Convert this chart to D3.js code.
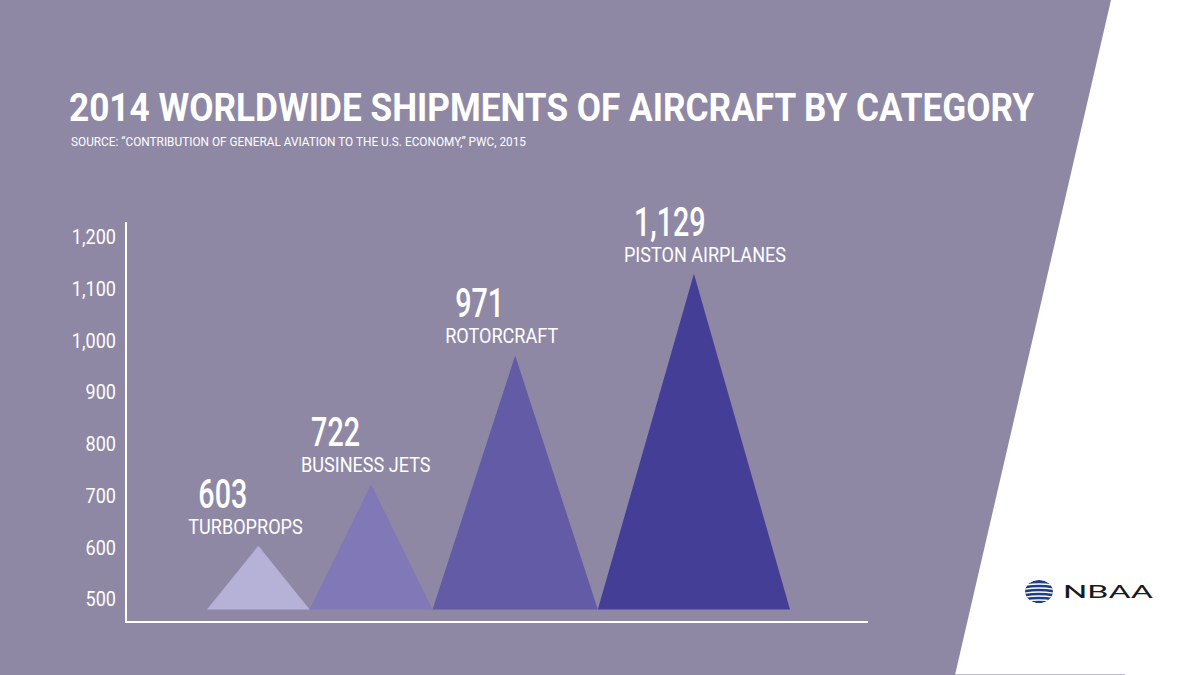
<!DOCTYPE html>
<html>
<head>
<meta charset="utf-8">
<script src="https://cdn.jsdelivr.net/npm/d3@7.9.0/dist/d3.min.js"></script>
<style>
  html, body { margin: 0; padding: 0; background: #ffffff; }
  svg { display: block; }
  text { font-family: Roboto, 'Open Sans', sans-serif; fill: #ffffff; }
</style>
</head>
<body>
<svg id="chart" width="1200" height="675"></svg>
<script>
// chart data
const categories = ['TURBOPROPS', 'BUSINESS JETS', 'ROTORCRAFT', 'PISTON AIRPLANES'];
const shipments = [603, 722, 971, 1129];
const yTicks = [500, 600, 700, 800, 900, 1000, 1100, 1200];
const colors = ['#b6b2d7', '#8078b7', '#635ba6', '#453e97'];

const title = '2014 WORLDWIDE SHIPMENTS OF AIRCRAFT BY CATEGORY';
const source = 'SOURCE: \u201CCONTRIBUTION OF GENERAL AVIATION TO THE U.S. ECONOMY,\u201D PWC, 2015';

const svg = d3.select('#chart');
const fmt = d3.format(',');

// squeeze text horizontally, fonts here are not condensed
function condense(sel, factor) {
  sel.each(function () {
    const w = this.getComputedTextLength();
    d3.select(this)
      .attr('textLength', w * factor)
      .attr('lengthAdjust', 'spacingAndGlyphs');
  });
}

// background slab
svg.append('rect')
  .attr('width', 1200).attr('height', 675)
  .attr('fill', '#ffffff');

svg.append('path')
  .attr('d', 'M0,0 L1111,0 L955,675 L0,675 Z')
  .attr('fill', '#8e88a5');

svg.append('line')
  .attr('x1', 955).attr('x2', 1125)
  .attr('y1', 674.5).attr('y2', 674.5)
  .attr('stroke', '#bdb9cf');

// title + source
svg.append('text')
  .attr('x', 69).attr('y', 121)
  .attr('font-size', 38)
  .attr('font-weight', 700)
  .attr('textLength', 965)
  .attr('lengthAdjust', 'spacingAndGlyphs')
  .text(title);

svg.append('text')
  .attr('x', 71).attr('y', 146)
  .attr('font-size', 12.5)
  .attr('textLength', 455)
  .attr('lengthAdjust', 'spacingAndGlyphs')
  .text(source);

// scales
const y = d3.scaleLinear()
  .domain([480, 1200])
  .range([609.5, 237]);

const ends = d3.cumsum(shipments);
const starts = shipments.map((v, i) => ends[i] - v);

const x = d3.scaleLinear()
  .domain([0, d3.sum(shipments)])
  .range([207, 790]);

// y axis labels
const yAxis = d3.axisLeft(y)
  .tickValues(yTicks)
  .tickSize(0)
  .tickPadding(0)
  .tickFormat(fmt);

const yG = svg.append('g')
  .attr('transform', 'translate(116,0)')
  .call(yAxis);

yG.select('.domain').remove();
yG.selectAll('text')
  .attr('font-family', 'Roboto, sans-serif')
  .attr('font-size', 21)
  .attr('fill', '#ffffff')
  .call(condense, 0.86);

// axis frame
svg.append('path')
  .attr('d', 'M126,222 V622 H868')
  .attr('fill', 'none')
  .attr('stroke', '#ffffff')
  .attr('stroke-width', 2);

// triangles
const data = categories.map((c, i) => ({
  name: c,
  value: shipments[i],
  x0: starts[i],
  x1: ends[i],
  color: colors[i]
}));

const base = y.range()[0];

svg.append('g')
  .selectAll('path')
  .data(data)
  .join('path')
  .attr('d', d => {
    const mid = (d.x0 + d.x1) / 2;
    return `M${x(d.x0)},${base} L${x(mid)},${y(d.value)} L${x(d.x1)},${base} Z`;
  })
  .attr('fill', d => d.color);

// labels above each peak
const labels = svg.append('g')
  .selectAll('g')
  .data(data)
  .join('g')
  .attr('transform', d => `translate(${x((d.x0 + d.x1) / 2) - 70},${y(d.value) - 12})`);

labels.append('text')
  .attr('font-size', 21)
  .attr('font-weight', 400)
  .text(d => d.name)
  .call(condense, 0.86);

labels.append('text')
  .attr('x', 10)
  .attr('y', -26)
  .attr('font-size', 41)
  .attr('font-weight', 500)
  .text(d => fmt(d.value))
  .call(condense, 0.7);

// NBAA logo
const logo = svg.append('g').attr('transform', 'translate(1039,591.5)');

logo.append('clipPath')
  .attr('id', 'globe-clip')
  .append('ellipse')
  .attr('rx', 14).attr('ry', 11.5);

const globe = logo.append('g').attr('clip-path', 'url(#globe-clip)');
globe.append('ellipse')
  .attr('rx', 14).attr('ry', 11.5)
  .attr('fill', '#1d3d8f');

[-7, -3, 1, 5, 9].forEach(o => {
  globe.append('path')
    .attr('d', `M-16,${o + 1} Q0,${o - 2} 16,${o + 1}`)
    .attr('fill', 'none')
    .attr('stroke', '#ffffff')
    .attr('stroke-width', 1.3);
});

svg.append('text')
  .attr('x', 1063).attr('y', 598)
  .attr('font-size', 18)
  .attr('font-weight', 400)
  .style('fill', '#1a1a1a')
  .attr('textLength', 90)
  .attr('lengthAdjust', 'spacingAndGlyphs')
  .text('NBAA');
</script>
</body>
</html>
